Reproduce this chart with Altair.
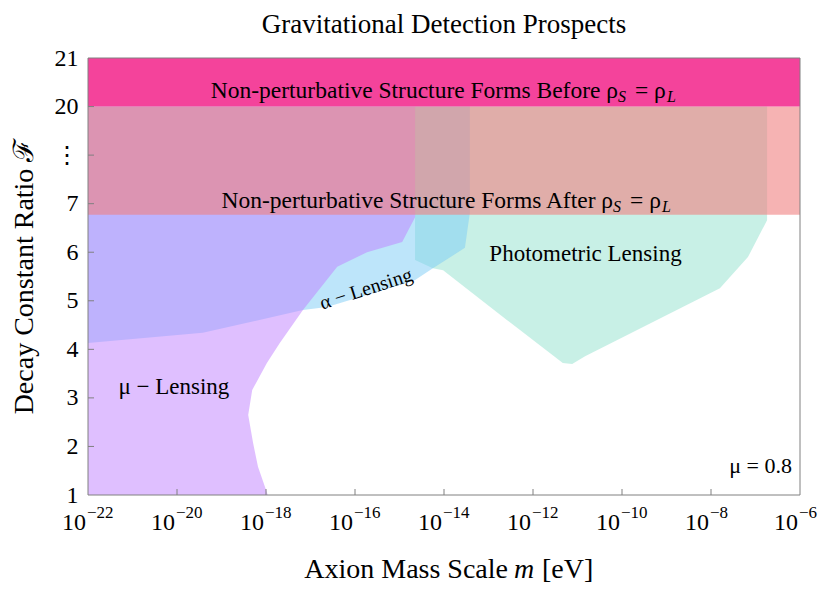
import json
import altair as alt
import pandas as pd

# ---------------- data ----------------
x_tick_exponents = [-22, -20, -18, -16, -14, -12, -10, -8, -6]
x_inner_ticks = [-20, -18, -16, -14, -12, -10, -8]
y_tick_positions = [1, 2, 3, 4, 5, 6, 7, 8, 9, 10]
y_tick_labels = ["1", "2", "3", "4", "5", "6", "7", "\u22ee", "20", "21"]
y_inner_ticks = [2, 3, 4, 5, 6, 7, 8, 9]

m_range = [-22, -6]          # log10(m / eV)
F_range = [1, 10]            # axis position (1..7, ..., 20, 21)

# mu-lensing: right boundary as function of F position
mu_F = [1.00, 1.58, 2.07, 2.65, 3.16, 3.72, 4.13, 4.81, 5.70, 6.00, 6.21, 6.72, 9.00]
mu_logm = [-17.96, -18.18, -18.29, -18.40, -18.31, -17.98, -17.69, -17.17, -16.40, -15.73, -14.94, -14.65, -14.65]

# alpha-lensing: lower boundary
alpha_logm = [-22.00, -19.42, -17.17, -16.63, -14.83, -14.65, -14.25, -13.53, -13.42]
alpha_F_low = [4.13, 4.34, 4.81, 4.87, 5.37, 5.43, 5.67, 6.09, 6.81]

# photometric lensing: lower boundary
photo_logm = [-14.65, -14.25, -14.02, -12.58, -11.33, -11.12, -10.83, -7.80, -7.17, -6.74]
photo_F_low = [5.84, 5.67, 5.63, 4.60, 3.72, 3.70, 3.86, 5.26, 5.90, 6.66]

region_top = 9.0           # F = 20
after_band = [6.77, 9.0]   # structure forms after rho_S = rho_L
before_band = [9.0, 10.0]  # structure forms before rho_S = rho_L

# ---------------- styling ----------------
FONT = "Liberation Serif"
GRAY = "#808080"
W, H = 712, 437

xscale = alt.Scale(domain=m_range, nice=False, zero=False)
yscale = alt.Scale(domain=F_range, nice=False, zero=False)

labels_js = json.dumps(y_tick_labels)
pos_js = json.dumps(y_tick_positions)
yaxis = alt.Axis(values=y_tick_positions, ticks=False, domain=False, grid=False,
                 labelExpr=f"{labels_js}[indexof({pos_js}, datum.value)]",
                 labelFont=FONT, labelFontSize=24, labelColor="black",
                 labelPadding=10, labelOverlap=False, title=None)


def X(field):
    return alt.X(field, type="quantitative", scale=xscale, axis=None)


def Y(field):
    return alt.Y(field, type="quantitative", scale=yscale, axis=yaxis)


# ---------------- regions ----------------
photo_df = pd.DataFrame({"m": photo_logm, "lo": photo_F_low, "hi": region_top})
alpha_df = pd.DataFrame({"m": alpha_logm, "lo": alpha_F_low, "hi": region_top})
mu_df = pd.DataFrame({"F": mu_F, "m": mu_logm, "left": m_range[0]})

photo = alt.Chart(photo_df).mark_area(color="#91E1CD", opacity=0.5).encode(
    x=X("m"), y=Y("lo"), y2="hi")
alpha_r = alt.Chart(alpha_df).mark_area(color="#7CCBF5", opacity=0.5).encode(
    x=X("m"), y=Y("lo"), y2="hi")
mu = alt.Chart(mu_df).mark_area(color="#C080FF", opacity=0.5, orient="horizontal").encode(
    y=Y("F"), x=X("m"), x2="left")

after_df = pd.DataFrame({"x": [m_range[0]], "x2": [m_range[1]], "y": [after_band[0]], "y2": [after_band[1]]})
before_df = pd.DataFrame({"x": [m_range[0]], "x2": [m_range[1]], "y": [before_band[0]], "y2": [before_band[1]]})
after = alt.Chart(after_df).mark_rect(color="#F08080", opacity=0.6).encode(
    x=X("x"), x2="x2", y=Y("y"), y2="y2")
before = alt.Chart(before_df).mark_rect(color="#F4439B").encode(
    x=X("x"), x2="x2", y=Y("y"), y2="y2")

frame_df = pd.DataFrame({"x": [m_range[0]], "x2": [m_range[1]], "y": [F_range[0]], "y2": [F_range[1]]})
frame = alt.Chart(frame_df).mark_rect(filled=False, stroke=GRAY, strokeWidth=1).encode(
    x=X("x"), x2="x2", y=Y("y"), y2="y2")

yt = alt.Chart(pd.DataFrame({"p": y_inner_ticks})).mark_rule(color=GRAY).encode(
    y=Y("p"), x=alt.value(0), x2=alt.value(6))
xt = alt.Chart(pd.DataFrame({"e": x_inner_ticks})).mark_rule(color=GRAY).encode(
    x=X("e"), y=alt.value(H), y2=alt.value(H - 6))

# x tick labels 10^e
xl_df = pd.DataFrame({"e": x_tick_exponents,
                      "ex": ["\u2212" + str(abs(v)) for v in x_tick_exponents]})
xl_base = alt.Chart(xl_df).mark_text(font=FONT, fontSize=24, align="right", dx=-2,
                                     baseline="alphabetic", color="black").encode(
    x=X("e"), y=alt.value(H + 35), text=alt.value("10"))
xl_exp = alt.Chart(xl_df).mark_text(font=FONT, fontSize=17, align="left", dx=-1,
                                    baseline="alphabetic", color="black").encode(
    x=X("e"), y=alt.value(H + 23), text="ex:N")


# ---------------- annotations ----------------
def label(text, m, F, size, align="center", dx=0, dy=0, angle=0, style="normal"):
    df = pd.DataFrame({"m": [m], "F": [F], "t": [text]})
    kw = dict(font=FONT, fontSize=size, align=align, baseline="alphabetic",
              color="black", dx=dx, dy=dy, fontStyle=style)
    if angle:
        kw["angle"] = angle
    return alt.Chart(df).mark_text(**kw).encode(x=X("m"), y=Y("F"), text="t:N")


def pixel_label(text, px, py, size, align="center", angle=0, style="normal"):
    kw = dict(font=FONT, fontSize=size, align=align, baseline="alphabetic",
              color="black", fontStyle=style)
    if angle:
        kw["angle"] = angle
    return alt.Chart(pd.DataFrame({"t": [text]})).mark_text(**kw).encode(
        x=alt.value(px), y=alt.value(py), text="t:N")


def band_text(word, m, F):
    return [
        label(f"Non-perturbative Structure Forms {word} \u03c1", m, F, 23.5, align="right"),
        label("S", m, F, 16, align="left", dx=0, dy=4, style="italic"),
        label("= \u03c1", m, F, 23.5, align="left", dx=17),
        label("L", m, F, 16, align="left", dx=49, dy=4, style="italic"),
    ]


texts = []
texts += band_text("Before", -10.09, 9.175)
texts += band_text("After", -10.20, 6.91)
texts.append(label("Photometric Lensing", -10.82, 5.82, 23))
texts.append(label("\u03bc \u2212 Lensing", -20.07, 3.08, 23))
texts.append(label("\u03b1 \u2212 Lensing", -15.71, 5.12, 20, angle=342))
texts.append(label("\u03bc = 0.8", -6.18, 1.45, 22, align="right"))

texts.append(pixel_label("Gravitational Detection Prospects", W / 2, -25, 27))
texts.append(pixel_label("Axion Mass Scale", 420, 520, 28, align="right"))
texts.append(pixel_label("m", 426, 520, 28, align="left", style="italic"))
texts.append(pixel_label("[eV]", 454, 520, 28, align="left"))
texts.append(pixel_label("Decay Constant Ratio \u2131", -55, H / 2, 28, angle=270))

chart = alt.layer(photo, alpha_r, mu, after, before, frame, yt, xt, xl_base, xl_exp, *texts).properties(
    width=W, height=H,
    autosize=alt.AutoSizeParams(type="none"),
    padding={"left": 80, "top": 50, "right": 22, "bottom": 91},
).configure_view(stroke=None)

chart.save("out.html", embed_options={"renderer": "svg", "actions": False})
